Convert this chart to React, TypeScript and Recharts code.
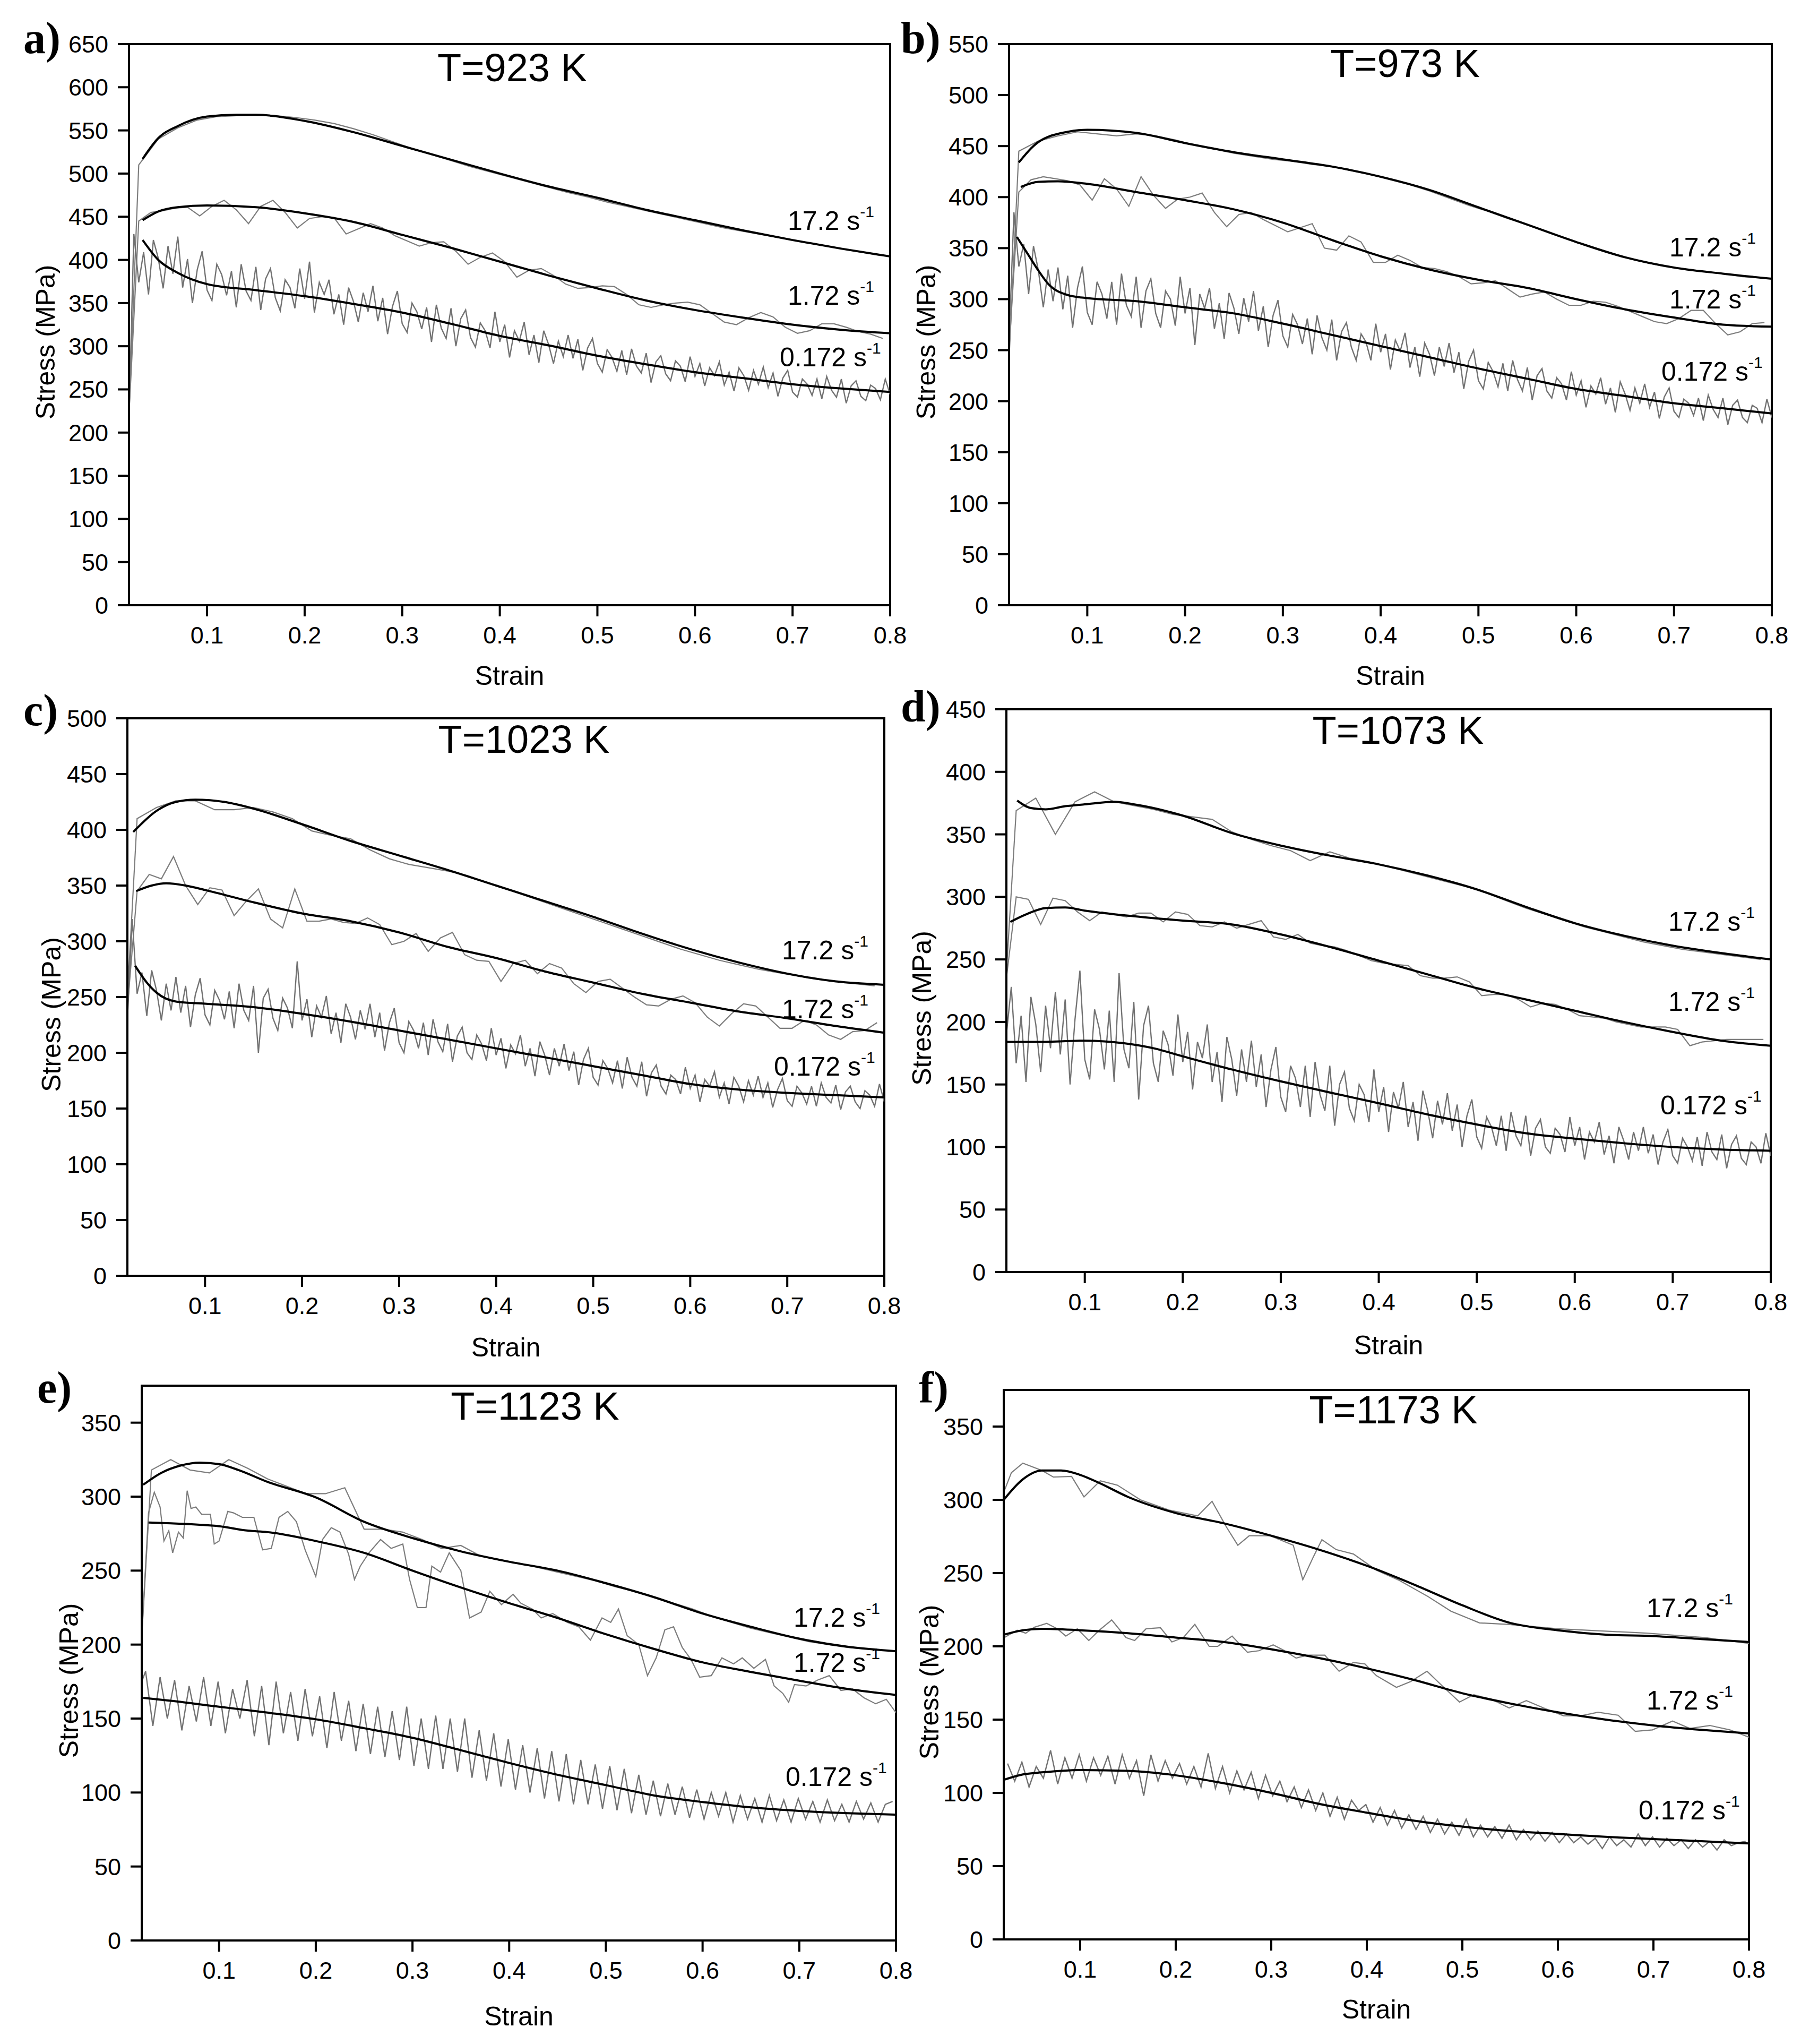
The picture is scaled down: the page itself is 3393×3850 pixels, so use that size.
import React from 'react';
import { LineChart, Line, XAxis, YAxis, ReferenceArea } from 'recharts';

const PAGE_W = 3393;
const PAGE_H = 3850;
const SANS = '"Liberation Sans", Arial, sans-serif';
const SERIF = '"Liberation Serif", "Times New Roman", serif';

const STRAIN_MIN = 0.02;
const STRAIN_MAX = 0.8;
const X_MAJOR = [0.1, 0.2, 0.3, 0.4, 0.5, 0.6, 0.7, 0.8];
const X_MINOR = [0.05, 0.15, 0.25, 0.35, 0.45, 0.55, 0.65, 0.75];
const RATES = ['17.2', '1.72', '0.172'];

const Y_MAJOR_650 = [0, 50, 100, 150, 200, 250, 300, 350, 400, 450, 500, 550, 600, 650];
const Y_MINOR_650 = [25, 75, 125, 175, 225, 275, 325, 375, 425, 475, 525, 575, 625];
const Y_MAJOR_550 = [0, 50, 100, 150, 200, 250, 300, 350, 400, 450, 500, 550];
const Y_MINOR_550 = [25, 75, 125, 175, 225, 275, 325, 375, 425, 475, 525];
const Y_MAJOR_500 = [0, 50, 100, 150, 200, 250, 300, 350, 400, 450, 500];
const Y_MINOR_500 = [25, 75, 125, 175, 225, 275, 325, 375, 425, 475];
const Y_MAJOR_450 = [0, 50, 100, 150, 200, 250, 300, 350, 400, 450];
const Y_MINOR_450 = [25, 75, 125, 175, 225, 275, 325, 375, 425];
const Y_MAJOR_350 = [0, 50, 100, 150, 200, 250, 300, 350];
const Y_MINOR_350 = [25, 75, 125, 175, 225, 275, 325];

// ---------- Panel a : T=923 K ----------
const A_FIT_HI_X = [0.034, 0.05, 0.07, 0.1, 0.13, 0.15, 0.2, 0.25, 0.3, 0.35, 0.4, 0.45, 0.5, 0.55, 0.6, 0.65, 0.7, 0.75, 0.8];
const A_FIT_HI_Y = [517, 541, 555, 566, 568, 568, 561, 548, 532, 516, 500, 485, 472, 458, 446, 434, 423, 413, 404];
const A_FIT_MID_X = [0.034, 0.05, 0.07, 0.1, 0.15, 0.2, 0.25, 0.3, 0.35, 0.4, 0.45, 0.5, 0.55, 0.6, 0.65, 0.7, 0.75, 0.8];
const A_FIT_MID_Y = [446, 456, 461, 463, 461, 454, 444, 429, 414, 398, 382, 367, 353, 342, 333, 325, 319, 315];
const A_FIT_LO_X = [0.034, 0.05, 0.07, 0.1, 0.15, 0.2, 0.25, 0.3, 0.35, 0.4, 0.45, 0.5, 0.55, 0.6, 0.65, 0.7, 0.75, 0.8];
const A_FIT_LO_Y = [423, 400, 385, 372, 365, 358, 349, 339, 326, 312, 301, 289, 279, 270, 263, 256, 251, 247];
const A_EXP_HI = [510, 540, 553, 562, 566, 567, 568, 567, 565, 562, 558, 552, 545, 537, 529, 522, 515, 508, 502, 496, 490, 484, 478, 473, 467, 462, 457, 452, 447, 442, 437, 433, 429, 425, 421, 417, 413, 409, 405];
const A_EXP_MID = [445, 455, 457, 460, 461, 451, 462, 469, 458, 442, 462, 469, 455, 437, 448, 450, 449, 430, 436, 442, 437, 428, 422, 416, 420, 421, 410, 395, 403, 408, 398, 380, 388, 390, 382, 372, 367, 368, 370, 369, 360, 348, 345, 348, 350, 351, 348, 338, 328, 325, 333, 339, 334, 322, 315, 318, 326, 326, 322, 317, 314, 309];
const A_EXP_LO = [
  430, 374, 409, 360, 423, 402, 367, 416, 384, 427,
  368, 401, 350, 389, 410, 365, 353, 395, 383, 359,
  387, 345, 395, 364, 353, 392, 342, 378, 390, 356,
  341, 377, 368, 344, 390, 355, 398, 339, 374, 360,
  377, 337, 360, 325, 368, 352, 328, 362, 340, 370,
  329, 356, 314, 346, 364, 326, 316, 350, 340, 320,
  345, 305, 348, 321, 309, 344, 300, 332, 342, 310,
  299, 327, 318, 298, 340, 305, 325, 287, 318, 306,
  328, 290, 313, 281, 318, 302, 280, 306, 288, 313,
  286, 308, 272, 298, 309, 280, 270, 296, 287, 271,
  295, 267, 297, 277, 269, 292, 258, 282, 289, 268,
  260, 283, 277, 259, 288, 265, 280, 254, 275, 266,
  282, 255, 270, 248, 275, 266, 249, 272, 256, 276,
  252, 269, 242, 263, 272, 247, 241, 262, 256, 243,
  262, 239, 265, 249, 241, 262, 234, 254, 260, 242,
  237, 255, 251, 238, 262, 244,
];

// ---------- Panel b : T=973 K ----------
const B_FIT_HI_X = [0.03, 0.05, 0.08, 0.1, 0.15, 0.2, 0.25, 0.3, 0.35, 0.4, 0.45, 0.5, 0.55, 0.6, 0.65, 0.7, 0.75, 0.8];
const B_FIT_HI_Y = [434, 454, 464, 466, 463, 453, 444, 437, 430, 420, 407, 390, 373, 356, 341, 331, 325, 320];
const B_FIT_MID_X = [0.032, 0.05, 0.07, 0.1, 0.15, 0.2, 0.25, 0.3, 0.35, 0.4, 0.45, 0.5, 0.55, 0.6, 0.65, 0.7, 0.75, 0.8];
const B_FIT_MID_Y = [410, 415, 415.5, 413, 405, 397, 388, 375, 358, 342, 329, 319, 311, 300, 290, 282, 275, 273];
const B_FIT_LO_X = [0.028, 0.04, 0.05, 0.06, 0.08, 0.1, 0.15, 0.2, 0.25, 0.3, 0.35, 0.4, 0.45, 0.5, 0.55, 0.6, 0.65, 0.7, 0.75, 0.8];
const B_FIT_LO_Y = [361, 343, 328, 315, 304, 301, 298, 292, 286, 276, 265, 254, 243, 232, 222, 212, 205, 198, 193, 188];
const B_EXP_HI = [445, 455, 460, 464, 462, 460, 462, 460, 456, 451, 447, 443, 440, 437, 435, 432, 430, 426, 422, 417, 412, 406, 399, 392, 386, 379, 373, 366, 359, 353, 347, 341, 336, 332, 329, 327, 325, 322, 321];
const B_EXP_MID = [405, 417, 420, 418, 416, 412, 397, 418, 408, 391, 420, 402, 389, 398, 400, 404, 385, 371, 383, 385, 378, 372, 366, 370, 374, 350, 348, 362, 356, 336, 336, 343, 338, 331, 330, 327, 322, 315, 316, 318, 310, 302, 305, 307, 300, 294, 294, 298, 297, 293, 288, 283, 278, 276, 281, 289, 289, 276, 265, 268, 276, 277];
const B_EXP_LO = [
  385, 332, 354, 305, 352, 328, 292, 329, 298, 331,
  290, 323, 272, 311, 332, 287, 275, 317, 305, 281,
  317, 275, 325, 294, 283, 322, 272, 308, 320, 286,
  272, 308, 300, 274, 322, 286, 311, 255, 305, 291,
  311, 271, 296, 261, 306, 291, 266, 301, 278, 308,
  269, 293, 253, 284, 299, 264, 253, 285, 275, 256,
  281, 246, 284, 262, 250, 280, 240, 268, 277, 253,
  240, 266, 258, 240, 276, 248, 266, 231, 260, 249,
  267, 233, 253, 224, 257, 246, 225, 253, 234, 257,
  228, 248, 212, 239, 250, 220, 212, 238, 229, 214,
  237, 210, 240, 221, 210, 233, 201, 225, 232, 210,
  203, 223, 217, 201, 229, 206, 220, 194, 215, 207,
  223, 197, 213, 189, 219, 207, 191, 213, 198, 217,
  194, 209, 183, 204, 213, 190, 184, 202, 198, 186,
  203, 181, 206, 192, 184, 203, 177, 196, 201, 184,
  179, 196, 193, 179, 202, 184,
];

// ---------- Panel c : T=1023 K ----------
const C_FIT_HI_X = [0.026, 0.05, 0.07, 0.09, 0.12, 0.15, 0.2, 0.25, 0.3, 0.35, 0.4, 0.45, 0.5, 0.55, 0.6, 0.65, 0.7, 0.75, 0.8];
const C_FIT_HI_Y = [398, 417, 425, 427, 425, 419, 405, 390, 377, 364, 350, 336, 322, 307, 293, 281, 271, 264, 261];
const C_FIT_MID_X = [0.029, 0.045, 0.06, 0.08, 0.1, 0.15, 0.2, 0.25, 0.3, 0.35, 0.4, 0.45, 0.5, 0.55, 0.6, 0.65, 0.7, 0.75, 0.8];
const C_FIT_MID_Y = [345, 350, 352, 350, 346, 335, 325, 318, 308, 295, 285, 273, 263, 253, 245, 237, 231, 224, 218];
const C_FIT_LO_X = [0.028, 0.04, 0.05, 0.07, 0.1, 0.15, 0.2, 0.25, 0.3, 0.35, 0.4, 0.45, 0.5, 0.55, 0.6, 0.65, 0.7, 0.75, 0.8];
const C_FIT_LO_Y = [278, 263, 254, 246, 244, 241, 235, 228, 220, 212, 204, 196, 188, 180, 172, 167, 164, 162, 160];
const C_EXP_HI = [410, 420, 426, 426, 418, 418, 420, 416, 410, 399, 395, 392, 382, 374, 369, 366, 363, 359, 353, 347, 341, 335, 329, 323, 317, 311, 305, 299, 293, 288, 283, 279, 275, 272, 269, 266, 264, 262, 260];
const C_EXP_MID = [345, 360, 356, 376, 350, 333, 348, 346, 323, 336, 347, 320, 312, 347, 318, 318, 320, 317, 316, 321, 315, 297, 300, 307, 291, 303, 308, 288, 283, 282, 264, 280, 283, 271, 280, 276, 262, 254, 264, 266, 258, 250, 243, 242, 248, 251, 245, 232, 224, 235, 244, 242, 232, 222, 222, 229, 225, 216, 212, 219, 220, 227];
const C_EXP_LO = [
  320, 253, 272, 233, 274, 256, 229, 262, 238, 268,
  236, 260, 223, 252, 267, 234, 225, 256, 247, 230,
  255, 222, 262, 238, 229, 260, 200, 249, 257, 231,
  220, 249, 240, 222, 282, 229, 248, 214, 242, 232,
  251, 217, 236, 209, 244, 232, 212, 238, 221, 244,
  214, 236, 202, 227, 240, 209, 200, 228, 220, 204,
  227, 198, 230, 210, 201, 226, 192, 215, 223, 200,
  194, 216, 208, 193, 222, 198, 213, 186, 207, 199,
  216, 188, 204, 179, 210, 198, 180, 204, 188, 208,
  184, 201, 171, 194, 204, 178, 171, 193, 186, 173,
  193, 168, 196, 178, 170, 192, 161, 182, 189, 170,
  163, 180, 176, 163, 187, 168, 180, 156, 176, 170,
  183, 160, 173, 154, 178, 170, 156, 175, 162, 179,
  160, 173, 151, 167, 177, 157, 152, 170, 164, 154,
  170, 152, 173, 160, 155, 171, 149, 165, 170, 156,
  150, 166, 162, 152, 172, 156,
];

// ---------- Panel d : T=1073 K ----------
const D_FIT_HI_X = [0.031, 0.045, 0.06, 0.08, 0.1, 0.13, 0.15, 0.2, 0.25, 0.3, 0.35, 0.4, 0.45, 0.5, 0.55, 0.6, 0.65, 0.7, 0.75, 0.8];
const D_FIT_HI_Y = [377, 371, 370, 372.5, 374, 376, 374, 365, 351, 341, 333, 326, 317, 306, 292, 279, 269, 261, 255, 250];
const D_FIT_MID_X = [0.024, 0.04, 0.06, 0.08, 0.1, 0.15, 0.2, 0.25, 0.3, 0.35, 0.4, 0.45, 0.5, 0.55, 0.6, 0.65, 0.7, 0.75, 0.8];
const D_FIT_MID_Y = [280, 286, 291, 291.5, 289, 284.5, 281, 278, 270, 260, 249, 238, 227, 218, 209, 200, 192, 185, 181];
const D_FIT_LO_X = [0.02, 0.05, 0.1, 0.14, 0.17, 0.2, 0.25, 0.3, 0.35, 0.4, 0.45, 0.5, 0.55, 0.6, 0.65, 0.7, 0.75, 0.8];
const D_FIT_LO_Y = [184, 184, 185, 183, 179, 172.5, 162, 152.5, 143.6, 135, 126, 118, 111, 106.7, 103, 100, 98, 97];
const D_EXP_HI = [369, 379, 350, 376, 384, 376, 373, 370, 366, 364, 362, 352, 346, 341, 337, 329, 336, 331, 328, 324, 320, 316, 312, 308, 303, 297, 291, 286, 281, 276, 272, 268, 264, 261, 258, 256, 254, 252, 250];
const D_EXP_MID = [300, 298, 278, 299, 297, 288, 281, 288, 286, 284, 287, 287, 280, 288, 286, 277, 276, 280, 275, 278, 281, 268, 266, 270, 263, 261, 260, 257, 253, 249, 247, 246, 245, 237, 235, 235, 236, 232, 221, 222, 222, 218, 212, 215, 214, 210, 205, 204, 203, 200, 198, 196, 196, 196, 194, 181, 184, 185, 186, 186, 186, 186];
const D_EXP_LO = [
  228, 167, 205, 152, 220, 198, 160, 213, 179, 224,
  174, 218, 150, 202, 241, 170, 154, 210, 194, 162,
  209, 152, 239, 178, 163, 216, 138, 197, 213, 167,
  152, 193, 182, 157, 206, 168, 192, 146, 184, 171,
  198, 152, 176, 136, 188, 170, 141, 178, 152, 185,
  148, 174, 132, 162, 180, 140, 128, 165, 155, 132,
  165, 124, 168, 142, 129, 165, 117, 150, 160, 131,
  121, 150, 142, 120, 162, 128, 148, 112, 144, 131,
  152, 116, 136, 105, 145, 129, 107, 137, 118, 143,
  113, 134, 100, 125, 138, 108, 99, 124, 116, 101,
  125, 97, 128, 109, 101, 125, 93, 115, 122, 100,
  95, 115, 110, 96, 124, 101, 116, 90, 112, 104,
  120, 94, 109, 87, 116, 105, 90, 112, 97, 116,
  95, 110, 86, 104, 114, 93, 87, 107, 100, 89,
  108, 85, 112, 96, 90, 110, 83, 102, 109, 91,
  86, 104, 100, 87, 111, 93,
];

// ---------- Panel e : T=1123 K ----------
const E_FIT_HI_X = [0.0215, 0.04, 0.06, 0.08, 0.1, 0.12, 0.15, 0.2, 0.25, 0.3, 0.35, 0.4, 0.45, 0.5, 0.55, 0.6, 0.65, 0.7, 0.75, 0.8];
const E_FIT_HI_Y = [308, 316, 321, 323, 322, 318, 310, 299.5, 283, 272, 263, 256, 250, 241.5, 232, 221, 212, 204, 198.5, 195.5];
const E_FIT_MID_X = [0.027, 0.05, 0.08, 0.1, 0.13, 0.15, 0.2, 0.25, 0.3, 0.35, 0.4, 0.45, 0.5, 0.55, 0.6, 0.65, 0.7, 0.75, 0.8];
const E_FIT_MID_Y = [282.5, 282, 281, 280, 277, 276, 270, 262, 250, 238.6, 228, 218, 207, 197, 188, 181.5, 175.6, 170, 166];
const E_FIT_LO_X = [0.0215, 0.05, 0.1, 0.15, 0.2, 0.25, 0.3, 0.35, 0.4, 0.45, 0.5, 0.55, 0.6, 0.65, 0.7, 0.75, 0.8];
const E_FIT_LO_Y = [164, 162, 158, 154, 149.5, 143.5, 137, 128.6, 120, 112, 105, 98, 93.6, 90, 87.6, 86, 85];
const E_EXP_HI = [318, 325, 318, 316, 325, 319, 312, 307, 302, 302, 306, 278, 278, 276, 271, 265, 267, 260, 257, 255, 252, 249, 246, 243, 239, 236, 232, 228, 224, 219, 215, 211, 208, 205, 202, 200, 198, 197, 196];
const E_EXP_MID_X = [0.02, 0.027, 0.033, 0.039, 0.043, 0.048, 0.052, 0.058, 0.063, 0.067, 0.071, 0.076, 0.082, 0.091, 0.095, 0.1, 0.109, 0.115, 0.124, 0.136, 0.145, 0.154, 0.162, 0.171, 0.18, 0.189, 0.2, 0.207, 0.216, 0.225, 0.234, 0.24, 0.246, 0.255, 0.267, 0.278, 0.29, 0.297, 0.305, 0.314, 0.32, 0.329, 0.338, 0.35, 0.359, 0.371, 0.38, 0.392, 0.404, 0.412, 0.424, 0.433, 0.445, 0.46, 0.472, 0.484, 0.496, 0.505, 0.513, 0.522, 0.534, 0.543, 0.552, 0.561, 0.57, 0.579, 0.588, 0.597, 0.609, 0.62, 0.632, 0.641, 0.653, 0.665, 0.674, 0.683, 0.689, 0.695, 0.707, 0.719, 0.731, 0.743, 0.755, 0.767, 0.779, 0.79, 0.8];
const E_EXP_MID_Y = [206, 289, 303, 293, 270, 277, 262, 276, 272, 304, 292, 293, 288, 288, 268, 270, 290, 289, 286, 286, 264, 265, 286, 290, 283, 264, 246, 271, 279, 276, 261, 244, 253, 262, 271, 265, 268, 244, 225, 225, 253, 249, 262, 250, 218, 222, 236, 227, 234, 228, 224, 218, 221, 215, 212, 203, 218, 215, 224, 206, 200, 179, 191, 210, 212, 198, 190, 178, 179, 191, 187, 191, 184, 190, 172, 167, 161, 173, 172, 176, 179, 169, 170, 164, 160, 163, 154];
const E_EXP_LO = [182, 145, 178, 150, 176, 142, 172, 148, 178, 145, 175, 140, 170, 150, 176, 138, 172, 132, 175, 140, 168, 135, 170, 138, 165, 130, 168, 135, 162, 128, 160, 126, 158, 124, 155, 122, 158, 118, 150, 116, 152, 116, 150, 114, 150, 110, 142, 108, 140, 104, 136, 102, 132, 100, 130, 96, 128, 94, 126, 92, 122, 92, 119, 89, 118, 88, 116, 86, 112, 85, 108, 84, 106, 85, 104, 83, 102, 82, 100, 84, 100, 80, 98, 82, 96, 80, 98, 81, 95, 80, 96, 82, 94, 80, 95, 81, 92, 80, 94, 82, 93, 80, 92, 94];

// ---------- Panel f : T=1173 K ----------
const F_FIT_HI_X = [0.0205, 0.04, 0.06, 0.08, 0.1, 0.12, 0.15, 0.2, 0.25, 0.3, 0.35, 0.4, 0.45, 0.5, 0.55, 0.6, 0.65, 0.7, 0.75, 0.8];
const F_FIT_HI_Y = [300.4, 314, 320, 320, 317, 311.5, 302, 291, 284, 275.5, 266, 255, 242, 228, 216, 211, 208, 207, 205, 203];
const F_FIT_MID_X = [0.0205, 0.04, 0.06, 0.1, 0.15, 0.2, 0.25, 0.3, 0.35, 0.4, 0.45, 0.5, 0.55, 0.6, 0.65, 0.7, 0.75, 0.8];
const F_FIT_MID_Y = [208, 211, 212, 211, 209, 206, 203, 198, 192, 185, 177, 168, 161, 155, 150, 146, 143, 140.6];
const F_FIT_LO_X = [0.0205, 0.04, 0.06, 0.1, 0.15, 0.2, 0.25, 0.3, 0.35, 0.4, 0.45, 0.5, 0.55, 0.6, 0.65, 0.7, 0.75, 0.8];
const F_FIT_LO_Y = [109, 112.6, 114, 115.6, 115, 112, 106.6, 100, 92.5, 86.5, 81, 77, 74, 72, 70, 68.5, 67, 65.5];
const F_EXP_HI_X = [0.0205, 0.028, 0.04, 0.06, 0.072, 0.091, 0.104, 0.121, 0.139, 0.163, 0.193, 0.223, 0.238, 0.253, 0.265, 0.277, 0.299, 0.323, 0.333, 0.344, 0.353, 0.368, 0.386, 0.41, 0.434, 0.464, 0.488, 0.518, 0.548, 0.6, 0.693, 0.753, 0.8];
const F_EXP_HI_Y = [306, 318.5, 325, 320, 315.5, 316, 302, 313, 310, 300, 293, 289, 299, 281.5, 269, 275.5, 275.5, 269, 245.5, 261, 272.8, 266, 263, 252, 245, 234, 224, 216, 215, 212, 209, 206, 202];
const F_EXP_MID_X = [0.0205, 0.034, 0.043, 0.052, 0.065, 0.076, 0.085, 0.097, 0.109, 0.12, 0.133, 0.148, 0.157, 0.169, 0.184, 0.196, 0.208, 0.22, 0.235, 0.244, 0.259, 0.275, 0.287, 0.302, 0.314, 0.326, 0.338, 0.356, 0.371, 0.386, 0.398, 0.41, 0.431, 0.446, 0.463, 0.479, 0.497, 0.512, 0.53, 0.549, 0.567, 0.585, 0.606, 0.624, 0.642, 0.663, 0.681, 0.699, 0.72, 0.738, 0.759, 0.78, 0.8];
const F_EXP_MID_Y = [206, 211, 209, 213, 215.7, 212, 207, 212, 204, 211, 218, 206, 204, 212, 212.7, 203, 206, 215, 200, 200, 207, 196, 197, 201, 197, 192, 194, 194, 183, 189, 188, 180, 172, 176, 183, 173, 162, 167, 164, 158, 163, 158, 152.6, 152.6, 155, 153, 142, 143, 149, 144, 146, 143, 138];
const F_EXP_LO = [120, 108, 121, 104, 118, 110, 129, 106, 124, 110, 126, 108, 124, 112, 125, 106, 126, 110, 122, 98, 126, 108, 122, 110, 120, 106, 118, 104, 127, 103, 118, 100, 115, 102, 114, 96, 112, 98, 108, 94, 104, 90, 102, 88, 100, 84, 97, 82, 95, 88, 92, 80, 90, 78, 88, 76, 85, 75, 84, 73, 82, 72, 80, 71, 82, 70, 78, 70, 77, 69, 78, 68, 75, 68, 74, 67, 73, 66, 72, 66, 70, 65, 69, 62, 70, 64, 68, 63, 72, 64, 70, 63, 69, 64, 68, 62, 68, 63, 67, 61, 68, 64, 66, 67];

type Pt = { x: number; y: number };

// experimental record sampled at a constant strain step, optionally preceded by the loading point at the axis start
function sampled(rise: number | null, x0: number, dx: number, ys: number[]): Pt[] {
  const pts: Pt[] = rise === null ? [] : [{ x: STRAIN_MIN, y: rise }];
  ys.forEach((y, i) => {
    const x = Math.round((x0 + i * dx) * 10000) / 10000;
    if (x <= STRAIN_MAX) pts.push({ x, y });
  });
  return pts;
}
function paired(xs: number[], ys: number[]): Pt[] {
  const n = Math.min(xs.length, ys.length);
  const pts: Pt[] = [];
  for (let i = 0; i < n; i++) pts.push({ x: xs[i], y: ys[i] });
  return pts;
}

const PANELS = [
  {
    tag: 'a)', title: 'T=923 K', ymax: 650, yMajor: Y_MAJOR_650, yMinor: Y_MINOR_650,
    exp: [sampled(220, 0.03, 0.02, A_EXP_HI), sampled(220, 0.03, 0.0125, A_EXP_MID), sampled(220, 0.025, 0.005, A_EXP_LO)],
    fit: [paired(A_FIT_HI_X, A_FIT_HI_Y), paired(A_FIT_MID_X, A_FIT_MID_Y), paired(A_FIT_LO_X, A_FIT_LO_Y)],
  },
  {
    tag: 'b)', title: 'T=973 K', ymax: 550, yMajor: Y_MAJOR_550, yMinor: Y_MINOR_550,
    exp: [sampled(240, 0.03, 0.02, B_EXP_HI), sampled(250, 0.03, 0.0125, B_EXP_MID), sampled(260, 0.025, 0.005, B_EXP_LO)],
    fit: [paired(B_FIT_HI_X, B_FIT_HI_Y), paired(B_FIT_MID_X, B_FIT_MID_Y), paired(B_FIT_LO_X, B_FIT_LO_Y)],
  },
  {
    tag: 'c)', title: 'T=1023 K', ymax: 500, yMajor: Y_MAJOR_500, yMinor: Y_MINOR_500,
    exp: [sampled(250, 0.03, 0.02, C_EXP_HI), sampled(240, 0.03, 0.0125, C_EXP_MID), sampled(230, 0.025, 0.005, C_EXP_LO)],
    fit: [paired(C_FIT_HI_X, C_FIT_HI_Y), paired(C_FIT_MID_X, C_FIT_MID_Y), paired(C_FIT_LO_X, C_FIT_LO_Y)],
  },
  {
    tag: 'd)', title: 'T=1073 K', ymax: 450, yMajor: Y_MAJOR_450, yMinor: Y_MINOR_450,
    exp: [sampled(240, 0.03, 0.02, D_EXP_HI), sampled(235, 0.03, 0.0125, D_EXP_MID), sampled(190, 0.025, 0.005, D_EXP_LO)],
    fit: [paired(D_FIT_HI_X, D_FIT_HI_Y), paired(D_FIT_MID_X, D_FIT_MID_Y), paired(D_FIT_LO_X, D_FIT_LO_Y)],
  },
  {
    tag: 'e)', title: 'T=1123 K', ymax: 375, yMajor: Y_MAJOR_350, yMinor: Y_MINOR_350,
    exp: [sampled(205, 0.03, 0.02, E_EXP_HI), paired(E_EXP_MID_X, E_EXP_MID_Y), sampled(175, 0.024, 0.0075, E_EXP_LO)],
    fit: [paired(E_FIT_HI_X, E_FIT_HI_Y), paired(E_FIT_MID_X, E_FIT_MID_Y), paired(E_FIT_LO_X, E_FIT_LO_Y)],
  },
  {
    tag: 'f)', title: 'T=1173 K', ymax: 375, yMajor: Y_MAJOR_350, yMinor: Y_MINOR_350,
    exp: [paired(F_EXP_HI_X, F_EXP_HI_Y), paired(F_EXP_MID_X, F_EXP_MID_Y), sampled(null, 0.024, 0.0075, F_EXP_LO)],
    fit: [paired(F_FIT_HI_X, F_FIT_HI_Y), paired(F_FIT_MID_X, F_FIT_MID_Y), paired(F_FIT_LO_X, F_FIT_LO_Y)],
  },
];

// layout (page pixels): plot rectangle, panel tag, title, rate-label heights (in stress units), axis-title offsets
const LAYOUT = [
  { l: 243, t: 83, r: 1677, b: 1140, tag: [44, 100], title: [965, 153], labelY: [435, 348, 277], stressDx: 157, strainDy: 150 },
  { l: 1901, t: 83, r: 3338, b: 1140, tag: [1697, 100], title: [2647, 145], labelY: [342, 291, 220], stressDx: 156, strainDy: 150 },
  { l: 240, t: 1353, r: 1666, b: 2403, tag: [44, 1366], title: [987, 1418], labelY: [284, 231, 179.5], stressDx: 143, strainDy: 152 },
  { l: 1896, t: 1336, r: 3336, b: 2396, tag: [1697, 1359], title: [2634, 1401], labelY: [273, 209, 126], stressDx: 159, strainDy: 155 },
  { l: 267, t: 2610, r: 1688, b: 3655, tag: [70, 2642], title: [1008, 2674], labelY: [212, 181.6, 104.4], stressDx: 137, strainDy: 160 },
  { l: 1891, t: 2618, r: 3295, b: 3653, tag: [1731, 2642], title: [2625, 2681], labelY: [220, 157, 82], stressDx: 140, strainDy: 149 },
];

const AXIS_STROKE = { stroke: '#000', strokeWidth: 4 };
const TICK_FONT = { fontSize: 45, fill: '#000', fontFamily: SANS };
const GREY = '#7d7d7d';
const GREY_DENSE = '#727272';

function Panel({ p, lay }: { p: (typeof PANELS)[number]; lay: (typeof LAYOUT)[number] }) {
  const ML = 230;
  const MT = 40;
  const MR = 40;
  const MB = 200;
  const w = lay.r - lay.l + ML + MR;
  const h = lay.b - lay.t + MT + MB;
  return (
    <div style={{ position: 'absolute', left: lay.l - ML, top: lay.t - MT, width: w, height: h }}>
      <LineChart width={w} height={h} margin={{ left: ML - 2, top: MT, right: MR, bottom: MB - 2 }}>
        <XAxis
          xAxisId="x" type="number" dataKey="x" domain={[STRAIN_MIN, STRAIN_MAX]} allowDataOverflow
          ticks={X_MAJOR} interval={0} height={1} tickSize={21} tickMargin={19}
          axisLine={AXIS_STROKE} tickLine={AXIS_STROKE} tick={TICK_FONT}
          tickFormatter={(v: number) => String(v)}
        />
        <XAxis
          xAxisId="xm" type="number" dataKey="x" domain={[STRAIN_MIN, STRAIN_MAX]} allowDataOverflow
          ticks={X_MINOR} interval={0} height={1} tickSize={10}
          axisLine={false} tickLine={AXIS_STROKE} tick={false}
        />
        <YAxis
          yAxisId="y" type="number" domain={[0, p.ymax]} allowDataOverflow
          ticks={p.yMajor} interval={0} width={1} tickSize={21} tickMargin={18}
          axisLine={AXIS_STROKE} tickLine={AXIS_STROKE} tick={TICK_FONT}
        />
        <YAxis
          yAxisId="ym" type="number" domain={[0, p.ymax]} allowDataOverflow
          ticks={p.yMinor} interval={0} width={1} tickSize={10}
          axisLine={false} tickLine={AXIS_STROKE} tick={false}
        />
        {p.exp.map((d, i) => (
          <Line
            key={'e' + i} xAxisId="x" yAxisId="y" data={d} dataKey="y" type="linear"
            stroke={i === 2 ? GREY_DENSE : GREY} strokeWidth={i === 2 ? 2.4 : 2.2}
            dot={false} activeDot={false} isAnimationActive={false}
          />
        ))}
        {p.fit.map((d, i) => (
          <Line
            key={'f' + i} xAxisId="x" yAxisId="y" data={d} dataKey="y" type="monotone"
            stroke="#000" strokeWidth={4} dot={false} activeDot={false} isAnimationActive={false}
          />
        ))}
        <ReferenceArea
          xAxisId="x" yAxisId="y" x1={STRAIN_MIN} x2={STRAIN_MAX} y1={0} y2={p.ymax}
          fill="none" fillOpacity={0} stroke="#000" strokeWidth={4} ifOverflow="visible"
        />
      </LineChart>
    </div>
  );
}

function Annotations() {
  return (
    <svg width={PAGE_W} height={PAGE_H} style={{ position: 'absolute', left: 0, top: 0, pointerEvents: 'none' }}>
      {PANELS.map((p, i) => {
        const lay = LAYOUT[i];
        const cx = (lay.l + lay.r) / 2;
        const cy = (lay.t + lay.b) / 2 + 33;
        const sx = lay.l - lay.stressDx;
        const toY = (v: number) => lay.t + (1 - v / p.ymax) * (lay.b - lay.t);
        return (
          <g key={i}>
            <text x={lay.tag[0]} y={lay.tag[1]} fontFamily={SERIF} fontWeight="bold" fontSize={84} fill="#000">{p.tag}</text>
            <text x={lay.title[0]} y={lay.title[1]} fontFamily={SANS} fontSize={74} textAnchor="middle" fill="#000">{p.title}</text>
            <text x={cx} y={lay.b + lay.strainDy} fontFamily={SANS} fontSize={50} textAnchor="middle" fill="#000">Strain</text>
            <text
              x={sx} y={cy} fontFamily={SANS} fontSize={50} textAnchor="middle" dominantBaseline="central"
              transform={`rotate(-90 ${sx} ${cy})`} fill="#000"
            >
              Stress (MPa)
            </text>
            {RATES.map((rate, k) => (
              <text key={rate} x={lay.r - (k === 2 ? 208 : 193)} y={toY(lay.labelY[k])} fontFamily={SANS} fontSize={50} fill="#000">
                {rate} s
                <tspan dy={-24} fontSize={30}>-1</tspan>
              </text>
            ))}
          </g>
        );
      })}
    </svg>
  );
}

export default function App() {
  return (
    <div style={{ position: 'absolute', left: 0, top: 0, width: PAGE_W, height: PAGE_H, background: '#fff', overflow: 'hidden' }}>
      {PANELS.map((p, i) => (
        <Panel key={i} p={p} lay={LAYOUT[i]} />
      ))}
      <Annotations />
    </div>
  );
}
